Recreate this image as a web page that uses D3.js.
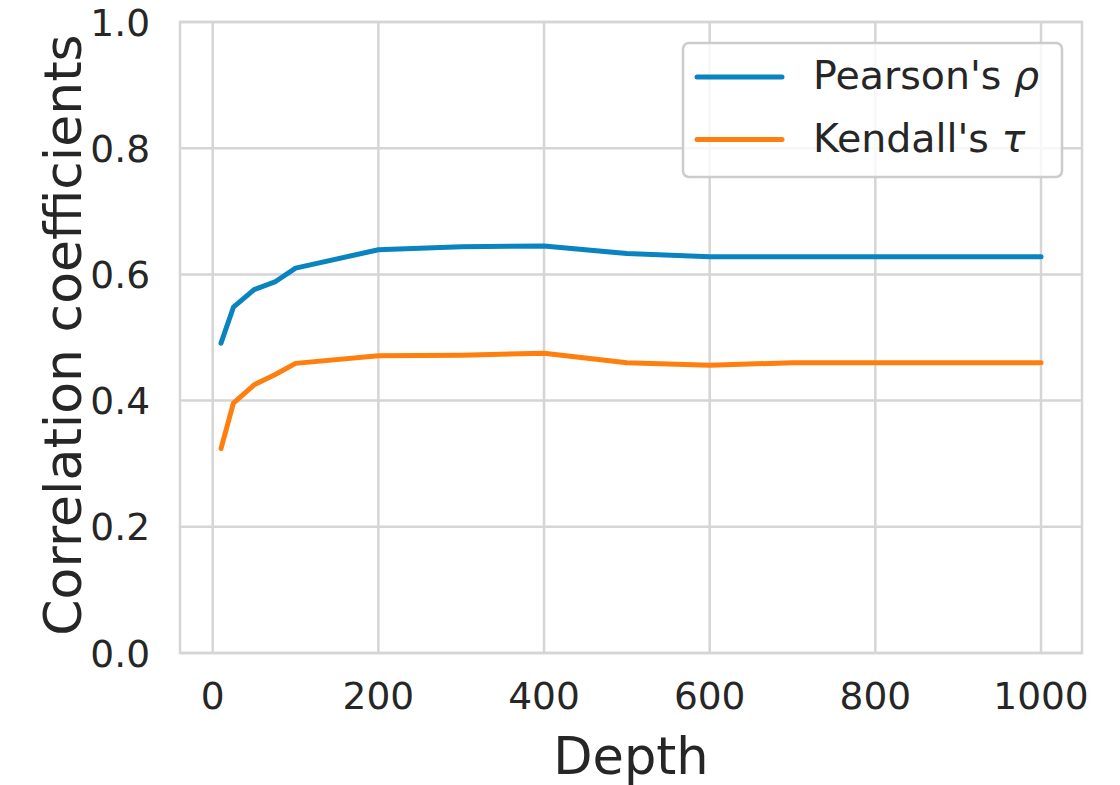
<!DOCTYPE html>
<html>
<head>
<meta charset="utf-8">
<script src="https://cdn.jsdelivr.net/npm/d3@7"></script>
<style>
  html, body { margin: 0; padding: 0; background: #fff; }
  svg { display: block; font-family: "DejaVu Sans", sans-serif; }
</style>
</head>
<body>
<script>
// values
const depth = [10, 25, 50, 75, 100, 200, 300, 400, 500, 600, 700, 800, 900, 1000];
const pearson = [0.491, 0.548, 0.576, 0.588, 0.610, 0.639, 0.644, 0.645, 0.633, 0.628, 0.628, 0.628, 0.628, 0.628];
const kendall = [0.324, 0.396, 0.425, 0.441, 0.459, 0.471, 0.472, 0.475, 0.460, 0.456, 0.460, 0.460, 0.460, 0.460];
const xTicks = [0, 200, 400, 600, 800, 1000];
const yTicks = [0, 0.2, 0.4, 0.6, 0.8, 1.0];
const seriesNames = ["Pearson's ", "Kendall's "];
const seriesSymbols = ["ρ", "τ"];
const seriesColors = ["#0a84c0", "#ff7f0e"];

const width = 1120, height = 785;
const m = {left: 180, right: 1082, top: 22, bottom: 653};
const ink = "#262626", gridColor = "#d5d5d5";

const svg = d3.select("body").append("svg")
    .attr("width", width)
    .attr("height", height);

const x = d3.scaleLinear().domain([-39.5, 1049.5]).range([m.left, m.right]);
const y = d3.scaleLinear().domain([0, 1]).range([m.bottom, m.top]);

// grid
const grid = svg.append("g")
    .attr("stroke", gridColor)
    .attr("stroke-width", 2.5);

grid.selectAll(".gx")
  .data(xTicks)
  .join("line")
    .attr("x1", d => x(d)).attr("x2", d => x(d))
    .attr("y1", m.top).attr("y2", m.bottom);

grid.selectAll(".gy")
  .data(yTicks)
  .join("line")
    .attr("x1", m.left).attr("x2", m.right)
    .attr("y1", d => y(d)).attr("y2", d => y(d));

// frame
svg.append("rect")
    .attr("x", m.left).attr("y", m.top)
    .attr("width", m.right - m.left).attr("height", m.bottom - m.top)
    .attr("fill", "none")
    .attr("stroke", gridColor)
    .attr("stroke-width", 2.5);

// tick labels
svg.append("g")
    .attr("fill", ink)
    .attr("font-size", 37.5)
    .attr("text-anchor", "middle")
  .selectAll("text")
  .data(xTicks)
  .join("text")
    .attr("x", d => x(d))
    .attr("y", 709)
    .text(d => d);

svg.append("g")
    .attr("fill", ink)
    .attr("font-size", 37.5)
    .attr("text-anchor", "end")
  .selectAll("text")
  .data(yTicks)
  .join("text")
    .attr("x", 150)
    .attr("y", d => y(d))
    .attr("dy", "0.36em")
    .text(d3.format(".1f"));

// axis labels
svg.append("text")
    .attr("x", 631)
    .attr("y", 774)
    .attr("fill", ink)
    .attr("font-size", 51)
    .attr("text-anchor", "middle")
    .text("Depth");

svg.append("text")
    .attr("transform", "translate(81,335) rotate(-90)")
    .attr("fill", ink)
    .attr("font-size", 52)
    .attr("text-anchor", "middle")
    .text("Correlation coefficients");

// lines
const line = d3.line()
    .x(d => x(d[0]))
    .y(d => y(d[1]));

[pearson, kendall].forEach((vals, i) => {
  svg.append("path")
      .datum(d3.zip(depth, vals))
      .attr("fill", "none")
      .attr("stroke", seriesColors[i])
      .attr("stroke-width", 5)
      .attr("stroke-linecap", "round")
      .attr("stroke-linejoin", "round")
      .attr("d", line);
});

// legend
const legend = svg.append("g");
legend.append("rect")
    .attr("x", 683).attr("y", 43)
    .attr("width", 379).attr("height", 134)
    .attr("rx", 6)
    .attr("fill", "#fff")
    .attr("fill-opacity", 0.8)
    .attr("stroke", "#cccccc")
    .attr("stroke-width", 2.5);

const item = legend.selectAll("g.item")
  .data(seriesNames)
  .join("g")
    .attr("class", "item")
    .attr("transform", (d, i) => `translate(0,${77 + i * 62.5})`);

item.append("line")
    .attr("x1", 697).attr("x2", 782)
    .attr("stroke", (d, i) => seriesColors[i])
    .attr("stroke-width", 5)
    .attr("stroke-linecap", "round");

const label = item.append("text")
    .attr("x", 813)
    .attr("y", 12)
    .attr("fill", ink)
    .attr("font-size", 39.5);
label.append("tspan").text(d => d);
label.append("tspan")
    .attr("font-style", "italic")
    .text((d, i) => seriesSymbols[i]);
</script>
</body>
</html>
